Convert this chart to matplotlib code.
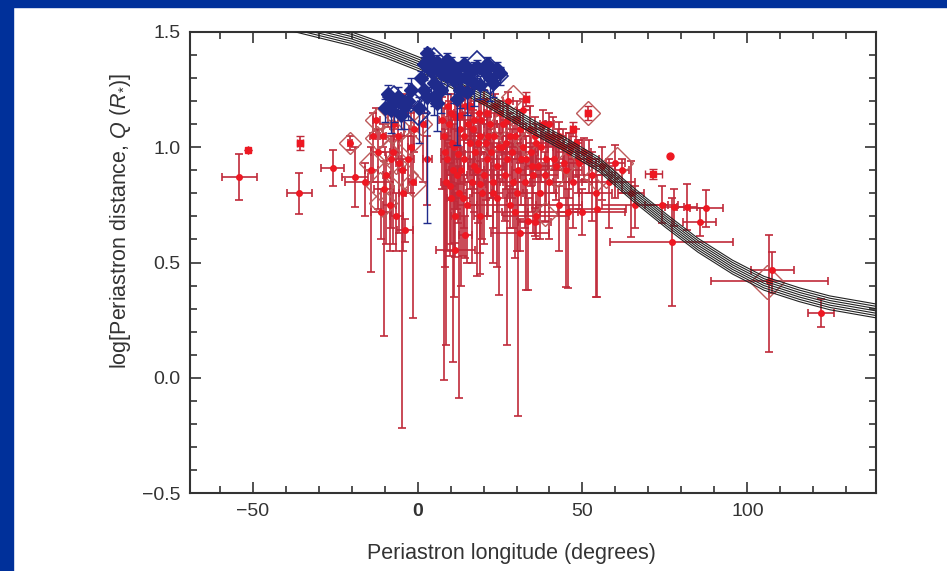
import numpy as np
import matplotlib.pyplot as plt
from matplotlib.patches import Rectangle

plt.rcParams['font.family'] = ['Liberation Sans', 'DejaVu Sans']
plt.rcParams['mathtext.fontset'] = 'custom'
plt.rcParams['mathtext.rm'] = 'Liberation Sans'
plt.rcParams['mathtext.it'] = 'Liberation Sans:italic'

# model curve (centre of the band)
curve_x = [-45, -37, -20, -10, 0.6, 10, 20, 34.8, 45, 55, 65, 75.4, 85, 95.5, 105, 115.8, 125, 139]
curve_y = [1.555, 1.53, 1.47, 1.42, 1.36, 1.29, 1.215, 1.09, 1.01, 0.925, 0.80, 0.68, 0.575, 0.48, 0.41, 0.36, 0.325, 0.29]
band_offsets = [-0.03, -0.02, -0.01, 0.0, 0.01, 0.02, 0.03]

# red comets: position, x error, lower / upper y error
red_x = [-54.0, -35.8, -25.7, -19.0, -16.0, -14.0, -12.5, -12.0, -10.2, -10.5,
         -8.0, -8.5, -7.0, -6.0, -4.8, -4.5, -4.0, -3.0, -1.5, -2.0,
         -6.5, -11.0, -3.8, -9.0, -1.0, 1.5, 3.0, -20.5,
         8.0, 8.5, 9.0, 10.0, 10.6, 11.0, 12.0, 12.7, 13.0, 14.0,
         14.5, 15.0, 16.0, 17.0, 18.0, 19.0, 20.0, 21.0, 22.0, 23.0,
         24.8, 25.0, 9.5, 11.5, 16.5, 13.5, 19.5, 11.5, 15.5, 18.5,
         10.0, 21.5, 23.5, 17.5, 12.0, 14.5,
         26.0, 27.0, 28.0, 29.0, 30.0, 30.6, 31.0, 32.0, 33.0, 33.5,
         34.0, 35.0, 36.0, 37.0, 38.0, 39.0, 40.0, 41.0, 42.0, 43.0,
         44.0, 45.0, 45.6, 46.0, 47.0, 48.0, 49.0, 50.0, 52.0, 53.0,
         54.5, 56.0, 58.0, 60.0, 62.0, 64.8, 66.0, 36.0, 28.0, 35.5,
         27.5, 32.0, 40.0, 43.0, 54.0,
         74.0, 77.9, 77.0, 81.8, 85.5, 87.5, 106.7, 107.5, 122.4]
red_y = [0.87, 0.80, 0.91, 0.87, 0.85, 0.90, 1.12, 0.98, 0.82, 1.05,
         0.95, 0.75, 1.10, 1.05, 0.90, 0.80, 1.15, 0.95, 0.85, 1.00,
         0.70, 0.72, 0.64, 1.17, 1.08, 1.10, 0.95, 1.02,
         1.05, 0.85, 0.95, 1.15, 0.90, 1.00, 1.20, 0.80, 1.08, 0.95,
         1.18, 0.75, 1.02, 1.12, 0.90, 1.05, 1.20, 0.95, 1.10, 0.85,
         1.00, 1.15, 1.10, 0.70, 0.85, 1.22, 0.80, 0.555, 1.25, 1.15,
         0.78, 1.05, 1.18, 0.98, 0.88, 0.62,
         1.10, 0.95, 1.05, 0.85, 1.12, 0.90, 0.63, 1.00, 0.95, 0.68,
         1.08, 0.88, 1.02, 0.80, 1.10, 0.95, 0.85, 1.05, 0.92, 0.75,
         1.00, 0.90, 0.72, 0.98, 0.85, 1.02, 0.93, 0.72, 0.95, 0.88,
         0.73, 0.92, 0.85, 0.93, 0.90, 0.80, 0.75, 0.70, 0.75, 0.676,
         1.20, 1.16, 1.10, 1.05, 0.80,
         0.75, 0.74, 0.59, 0.74, 0.676, 0.736, 0.42, 0.467, 0.28]
red_xerr = [5.3, 3.8, 3.5, 4.0, 6.0, 2.0, 1.0, 2.0, 3.0, 1.0,
            1.5, 2.0, 1.0, 1.0, 1.0, 1.0, 1.0, 2.0, 1.0, 1.0,
            2.0, 3.0, 2.3, 1.0, 1.5, 1.0, 1.5, 0.5,
            1.0, 1.5, 2.0, 1.0, 1.0, 2.0, 1.0, 2.0, 3.0, 2.0,
            1.5, 3.0, 2.0, 1.0, 2.0, 3.0, 1.0, 2.0, 2.0, 3.0,
            2.0, 1.0, 1.0, 1.5, 2.0, 1.0, 3.0, 5.8, 1.0, 2.0,
            1.0, 1.5, 1.0, 4.0, 3.0, 2.0,
            2.0, 3.0, 2.0, 4.0, 1.0, 2.0, 8.8, 3.0, 2.0, 3.0,
            2.0, 4.0, 3.0, 5.0, 1.0, 3.0, 6.0, 2.0, 4.0, 7.0,
            3.0, 5.0, 3.0, 4.0, 6.0, 2.0, 5.0, 13.0, 3.0, 6.0,
            8.6, 4.0, 8.0, 3.0, 2.0, 4.0, 10.0, 10.0, 12.0, 5.0,
            1.5, 2.0, 1.5, 2.0, 5.0,
            5.0, 3.0, 18.7, 3.0, 5.0, 5.0, 17.6, 6.5, 3.9]
red_ylo = [0.10, 0.09, 0.08, 0.13, 0.15, 0.44, 0.05, 0.25, 0.64, 0.05,
           0.30, 0.20, 0.12, 0.10, 1.12, 0.25, 0.10, 0.15, 0.59, 0.20,
           0.15, 0.12, 0.05, 0.08, 0.10, 0.25, 0.20, 0.03,
           1.06, 0.71, 0.40, 0.30, 0.83, 0.65, 0.25, 0.89, 0.20, 0.30,
           0.15, 0.25, 0.20, 0.30, 0.46, 0.15, 0.20, 0.25, 0.15, 0.20,
           0.64, 0.10, 0.20, 0.15, 0.35, 0.10, 0.20, 0.03, 0.10, 0.10,
           0.20, 0.35, 0.12, 0.10, 0.15, 0.10,
           0.20, 0.81, 0.30, 0.20, 0.15, 1.065, 0.08, 0.20, 0.57, 0.30,
           0.20, 0.25, 0.15, 0.20, 0.10, 0.20, 0.25, 0.15, 0.15, 0.20,
           0.15, 0.505, 0.33, 0.20, 0.20, 0.15, 0.20, 0.10, 0.15, 0.20,
           0.38, 0.15, 0.20, 0.15, 0.10, 0.19, 0.10, 0.10, 0.10, 0.06,
           0.10, 0.08, 0.10, 0.15, 0.45,
           0.08, 0.08, 0.28, 0.10, 0.06, 0.08, 0.31, 0.10, 0.06]
red_yhi = [0.10, 0.09, 0.08, 0.13, 0.08, 0.10, 0.05, 0.10, 0.12, 0.05,
           0.10, 0.10, 0.08, 0.10, 0.15, 0.10, 0.08, 0.10, 0.20, 0.15,
           0.10, 0.10, 0.05, 0.05, 0.10, 0.05, 0.10, 0.03,
           0.12, 0.10, 0.10, 0.08, 0.10, 0.10, 0.06, 0.12, 0.10, 0.10,
           0.05, 0.10, 0.10, 0.08, 0.10, 0.10, 0.05, 0.08, 0.08, 0.10,
           0.10, 0.05, 0.10, 0.10, 0.10, 0.04, 0.10, 0.03, 0.03, 0.06,
           0.10, 0.08, 0.05, 0.08, 0.10, 0.08,
           0.08, 0.10, 0.10, 0.10, 0.08, 0.12, 0.06, 0.10, 0.10, 0.10,
           0.10, 0.10, 0.08, 0.10, 0.06, 0.10, 0.10, 0.08, 0.10, 0.08,
           0.08, 0.10, 0.10, 0.08, 0.10, 0.06, 0.10, 0.10, 0.08, 0.10,
           0.15, 0.08, 0.10, 0.08, 0.05, 0.14, 0.08, 0.10, 0.08, 0.06,
           0.04, 0.05, 0.05, 0.06, 0.15,
           0.08, 0.08, 0.19, 0.10, 0.06, 0.08, 0.20, 0.08, 0.06]

# the crowded part of the red family, between about -14 and 50 degrees
dense_x = [7.5, 8.2, 9.2, 10.3, 11.2, 12.3, 13.2, 14.2, 15.3, 16.2,
           17.2, 18.2, 19.2, 20.2, 21.2, 22.2, 23.2, 24.2, 25.5, 26.5,
           27.2, 28.5, 29.5, 31.0, 31.5, 32.5, 34.5, 35.5, 36.5, 37.5,
           38.5, 39.5, 41.5, 42.5, 44.5, 46.5, 48.5, 50.5, 19.0, 24.0,
           29.5, -9.5, -7.5, -5.5, -13.5,
           9.8, 13.8, 16.8, 20.8, 22.8, 26.8, 30.3, 34.8, 12.8, 18.8]
dense_y = [1.12, 0.98, 1.18, 1.02, 1.13, 0.97, 0.90, 1.05, 1.10, 1.18,
           0.92, 1.02, 1.12, 0.88, 1.15, 0.98, 1.05, 0.92, 1.00, 0.88,
           1.12, 0.98, 1.05, 1.08, 0.95, 0.85, 0.98, 1.05, 0.92, 1.00,
           0.88, 1.05, 0.95, 1.02, 0.93, 1.00, 0.95, 0.98, 0.70, 0.78,
           0.72, 0.88, 0.98, 0.93, 1.05,
           0.83, 0.78, 1.08, 1.02, 0.80, 1.02, 0.80, 0.92, 1.14, 0.84]
dense_xerr = [1, 1, 1, 2, 1, 2, 1, 2, 1, 1,
              2, 1, 2, 2, 1, 3, 2, 2, 3, 2,
              2, 3, 2, 2, 3, 3, 2, 3, 3, 2,
              4, 2, 3, 2, 3, 2, 3, 2, 2, 3,
              4, 1, 1, 1, 1,
              2, 2, 1, 2, 3, 2, 3, 2, 1, 2]
dense_ylo = [0.30, 0.50, 0.15, 0.25, 0.40, 0.30, 0.50, 0.20, 0.25, 0.15,
             0.20, 0.35, 0.15, 0.30, 0.10, 0.20, 0.25, 0.20, 0.15, 0.20,
             0.15, 0.20, 0.20, 0.15, 0.20, 0.20, 0.15, 0.15, 0.20, 0.15,
             0.20, 0.15, 0.15, 0.12, 0.15, 0.15, 0.15, 0.12, 0.25, 0.30,
             0.20, 0.30, 0.40, 0.30, 0.20,
             0.30, 0.25, 0.20, 0.25, 0.30, 0.20, 0.25, 0.20, 0.30, 0.30]
dense_yhi = [0.10, 0.10, 0.05, 0.10, 0.08, 0.10, 0.10, 0.10, 0.08, 0.05,
             0.10, 0.10, 0.08, 0.10, 0.06, 0.10, 0.10, 0.10, 0.10, 0.10,
             0.08, 0.10, 0.08, 0.08, 0.10, 0.10, 0.08, 0.08, 0.10, 0.08,
             0.10, 0.06, 0.08, 0.06, 0.08, 0.06, 0.08, 0.06, 0.10, 0.10,
             0.10, 0.10, 0.10, 0.10, 0.10,
             0.10, 0.10, 0.08, 0.08, 0.10, 0.08, 0.10, 0.08, 0.06, 0.10]

# red comets drawn with square symbols
sq_x = [-51.5, -35.6, 33.0, 47.0, 51.6, 71.5]
sq_y = [0.99, 1.02, 1.21, 1.08, 1.15, 0.884]
sq_xerr = [0.0, 1.0, 0.8, 0.8, 0.8, 2.6]
sq_yerr = [0.0, 0.03, 0.03, 0.03, 0.03, 0.02]

# single red dot without error bars
dot_x = [76.6]
dot_y = [0.96]

# large open red diamonds
rdia_x = [-20.6, -12.4, -12.4, -11.5, -10.6, -7.6, -6.4, -2.4, -1.5, -4.0,
          1.0, 28.8, 51.6, 60.5, 54.5, 38.5, 106.0, 22.0, 45.0,
          -14.0, -9.0, -5.0, 25.0, 33.0, 42.0, 57.0]
rdia_y = [1.02, 1.12, 1.04, 0.83, 0.76, 1.07, 0.94, 1.02, 0.84, 0.88,
          1.10, 1.22, 1.15, 0.93, 0.87, 0.71, 0.415, 1.02, 0.93,
          0.93, 0.98, 1.08, 1.10, 1.02, 0.88, 0.88]
rdia_ms = [11, 12, 12, 14, 14, 12, 13, 12, 13, 14,
           11, 12, 12, 16, 14, 12, 17, 12, 12,
           12, 12, 11, 12, 12, 12, 13]

# blue comets
blue_x = [3, 2, 4, 1, 5, 6, 8, 10, 12, 14, 9, 11, 13, 16, 18, 20, 17, 7, 3, 15,
          19, 22, -6, -4, -8, -3, 0.5, 6, 12, 24,
          -9, -7, -5, -10, -2, 2, 4, 7, 9, 11, 15, 17, 21, 23, 25, 13, 5]
blue_y = [1.41, 1.36, 1.33, 1.30, 1.28, 1.37, 1.35, 1.36, 1.34, 1.36, 1.31, 1.29,
          1.30, 1.33, 1.35, 1.33, 1.28, 1.25, 1.22, 1.24, 1.27, 1.30, 1.22, 1.18,
          1.16, 1.20, 1.17, 1.19, 1.21, 1.34,
          1.23, 1.19, 1.14, 1.17, 1.25, 1.25, 1.38, 1.32, 1.38, 1.33, 1.30, 1.34,
          1.36, 1.28, 1.32, 1.25, 1.22]
blue_ylo = [0.03, 0.05, 0.10, 0.08, 0.10, 0.05, 0.06, 0.05, 0.06, 0.05, 0.08, 0.10,
            0.06, 0.06, 0.05, 0.08, 0.10, 0.10, 0.55, 0.10, 0.06, 0.10, 0.08, 0.10,
            0.10, 0.08, 0.15, 0.12, 0.20, 0.05,
            0.06, 0.08, 0.06, 0.06, 0.08, 0.10, 0.04, 0.06, 0.04, 0.06, 0.06, 0.05,
            0.05, 0.06, 0.05, 0.08, 0.08]
blue_yhi = [0.02, 0.03, 0.03, 0.03, 0.03, 0.03, 0.03, 0.03, 0.03, 0.03, 0.03, 0.03,
            0.03, 0.03, 0.03, 0.03, 0.04, 0.03, 0.04, 0.04, 0.04, 0.04, 0.04, 0.04,
            0.04, 0.08, 0.05, 0.04, 0.04, 0.03,
            0.04, 0.04, 0.04, 0.04, 0.05, 0.04, 0.03, 0.03, 0.03, 0.03, 0.03, 0.03,
            0.03, 0.03, 0.03, 0.04, 0.04]
bdia_x = [22, 8, 0, 14, -2, 18, 5, -7]
bdia_y = [1.31, 1.30, 1.15, 1.27, 1.20, 1.36, 1.38, 1.22]
bdia_ms = [18, 12, 12, 12, 11, 13, 12, 11]

red = '#ee1822'
red_bar = '#c02a3a'
red_edge = '#bd5a5a'
blue = '#1f2b8c'

fig = plt.figure(figsize=(9.47, 5.71), dpi=100)
fig.patch.set_facecolor('white')
# slide frame
fig.patches.append(Rectangle((0, 0), 13 / 947, 1, transform=fig.transFigure,
                             color='#00309a', zorder=0))
fig.patches.append(Rectangle((0, 1 - 7 / 571), 1, 7 / 571, transform=fig.transFigure,
                             color='#00309a', zorder=0))

ax = fig.add_axes([190 / 947, 1 - 493 / 571, 686 / 947, 461 / 571])

bar_style = dict(ms=4, color=red, ecolor=red_bar, elinewidth=1.2,
                 capsize=3, capthick=1.2, zorder=2)

# red comets
ax.errorbar(red_x, red_y, xerr=red_xerr, yerr=[red_ylo, red_yhi], fmt='o',
            **bar_style)
ax.errorbar(dense_x, dense_y, xerr=dense_xerr, yerr=[dense_ylo, dense_yhi],
            fmt='o', **bar_style)
ax.errorbar(sq_x, sq_y, xerr=sq_xerr, yerr=sq_yerr, fmt='s', ms=4,
            color=red, ecolor=red_bar, elinewidth=1.2, capsize=3, zorder=2)
ax.plot(dot_x, dot_y, 'o', ms=5, color=red, zorder=2)
for x, y, m in zip(rdia_x, rdia_y, rdia_ms):
    ax.plot(x, y, 'D', ms=m, mfc='none', mec=red_edge, mew=1, zorder=2)

# band of model curves
cx = np.array(curve_x)
cy = np.array(curve_y)
for off in band_offsets:
    ax.plot(cx, cy + off, color='#222222', lw=0.8, zorder=3)

# blue comets
ax.errorbar(blue_x, blue_y, yerr=[blue_ylo, blue_yhi], fmt='D', ms=7.5,
            color=blue, ecolor=blue, elinewidth=1, capsize=3, zorder=4)
for x, y, m in zip(bdia_x, bdia_y, bdia_ms):
    ax.plot(x, y, 'D', ms=m, mfc='none', mec=blue, mew=1.2, zorder=4)

ax.set_xlim(-69, 139)
ax.set_ylim(-0.5, 1.5)
ax.set_xticks([-50, 0, 50, 100])
ax.set_xticks(np.arange(-60, 140, 10), minor=True)
ax.set_yticks([-0.5, 0.0, 0.5, 1.0, 1.5])
ax.set_yticks(np.arange(-0.5, 1.5, 0.1), minor=True)
ax.set_yticklabels(['\u22120.5', '0.0', '0.5', '1.0', '1.5'])
ax.set_xticklabels(['\u221250', '0', '50', '100'])
ax.get_xticklabels()[1].set_fontweight('bold')
ax.tick_params(which='both', direction='in', top=True, right=True,
               colors='#333333', labelsize=14, pad=7)
ax.tick_params(which='major', length=8, width=1.2)
ax.tick_params(which='minor', length=5, width=1.2)
for s in ax.spines.values():
    s.set_color('#333333')
    s.set_linewidth(1.5)

ax.set_xlabel('Periastron longitude (degrees)', fontsize=15.5, color='#333333')
ax.set_ylabel('log[Periastron distance, $Q$ ($R_{*}$)]', fontsize=15.5,
              color='#333333')
ax.xaxis.set_label_coords(0.468, -0.109)
ax.yaxis.set_label_coords(-0.083, 0.59)

fig.savefig('out.png', dpi=100)
